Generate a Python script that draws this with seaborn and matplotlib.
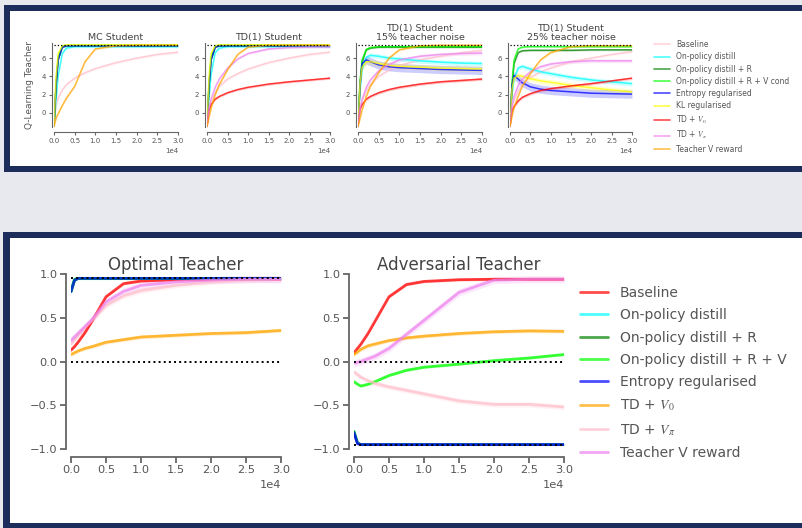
import matplotlib
matplotlib.use("Agg")
import matplotlib.pyplot as plt
import numpy as np
import pandas as pd
import seaborn as sns
from matplotlib.patches import Rectangle
from matplotlib.lines import Line2D
from matplotlib.ticker import MultipleLocator

# training steps (x axis), shared by every curve
steps = [0, 500, 1000, 2000, 3000, 5000, 7500, 10000, 15000, 20000, 25000, 30000]

# ---- top figure: Q-learning teacher ----
top_methods = ["Baseline", "On-policy distill", "On-policy distill + R",
               "On-policy distill + R + V cond", "Entropy regularised", "KL regularised",
               r"TD + $V_0$", r"TD + $V_\pi$", "Teacher V reward"]
top_colors = ["pink", "cyan", "green", "lime", "blue", "yellow", "red", "violet", "orange"]
top_band_clean = [0.15, 0.12, 0.08, 0.08, 0.08, 0.08, 0.12, 0.12, 0.1]
top_band_noisy = [0.15, 0.25, 0.1, 0.1, 0.45, 0.3, 0.15, 0.2, 0.12]
top_titles = ["MC Student", "TD(1) Student", "TD(1) Student\n15% teacher noise",
              "TD(1) Student\n25% teacher noise"]
q_optimal = 7.45

mc_baseline = [-1.5, 0.8, 1.6, 2.5, 3.1, 3.8, 4.4, 4.85, 5.5, 6.0, 6.4, 6.65]
mc_distill = [-1.5, 1.5, 4.0, 6.5, 7.1, 7.25, 7.25, 7.25, 7.25, 7.25, 7.25, 7.25]
mc_distill_r = [-1.5, 3.0, 5.8, 7.2, 7.35, 7.35, 7.35, 7.35, 7.35, 7.35, 7.35, 7.35]
mc_distill_rv = [-1.5, 3.3, 6.1, 7.3, 7.4, 7.4, 7.4, 7.4, 7.4, 7.4, 7.4, 7.4]
mc_entropy = [-1.5, 3.0, 5.8, 7.2, 7.35, 7.35, 7.35, 7.35, 7.35, 7.35, 7.35, 7.35]
mc_kl = [-1.5, 4.0, 6.5, 7.35, 7.45, 7.45, 7.45, 7.45, 7.45, 7.45, 7.45, 7.45]
mc_teacher_v = [-1.5, -0.6, -0.1, 0.8, 1.6, 2.9, 5.6, 7.0, 7.35, 7.4, 7.4, 7.4]

td_baseline = [-1.5, 0.5, 1.2, 2.2, 2.9, 3.7, 4.3, 4.8, 5.5, 6.0, 6.4, 6.65]
td_distill = [-1.5, 1.6, 4.2, 6.6, 7.1, 7.25, 7.25, 7.25, 7.25, 7.25, 7.25, 7.25]
td_distill_r = [-1.5, 3.0, 5.8, 7.2, 7.35, 7.35, 7.35, 7.35, 7.35, 7.35, 7.35, 7.35]
td_distill_rv = [-1.5, 3.3, 6.1, 7.3, 7.4, 7.4, 7.4, 7.4, 7.4, 7.4, 7.4, 7.4]
td_entropy = [-1.5, 3.0, 5.8, 7.2, 7.35, 7.35, 7.35, 7.35, 7.35, 7.35, 7.35, 7.35]
td_kl = [-1.5, 4.0, 6.5, 7.35, 7.45, 7.45, 7.45, 7.45, 7.45, 7.45, 7.45, 7.45]
td_v0 = [-1.5, 0.3, 0.9, 1.5, 1.8, 2.2, 2.55, 2.8, 3.15, 3.4, 3.6, 3.8]
td_vpi = [-1.5, 0.5, 1.5, 2.8, 3.7, 4.9, 5.9, 6.5, 7.0, 7.15, 7.2, 7.2]
td_teacher_v = [-1.5, -0.5, 0.5, 2.0, 3.1, 4.7, 6.4, 7.2, 7.4, 7.4, 7.4, 7.4]

n15_baseline = [-1.5, 0.5, 1.3, 2.4, 3.1, 4.0, 4.7, 5.2, 5.8, 6.2, 6.6, 6.85]
n15_distill = [-1.5, 2.5, 4.8, 6.1, 6.3, 6.2, 6.0, 5.9, 5.7, 5.55, 5.45, 5.4]
n15_distill_r = [-1.5, 3.2, 5.6, 6.9, 7.1, 7.2, 7.2, 7.2, 7.2, 7.2, 7.2, 7.2]
n15_distill_rv = [-1.5, 3.5, 5.8, 6.95, 7.15, 7.25, 7.25, 7.25, 7.25, 7.25, 7.25, 7.25]
n15_entropy = [-1.5, 3.0, 5.4, 5.8, 5.6, 5.25, 5.05, 4.95, 4.85, 4.75, 4.7, 4.65]
n15_kl = [-1.5, 3.2, 5.0, 5.6, 5.6, 5.4, 5.2, 5.1, 5.0, 4.9, 4.85, 4.8]
n15_v0 = [-1.5, 0.4, 0.9, 1.5, 1.8, 2.2, 2.55, 2.8, 3.15, 3.4, 3.55, 3.7]
n15_vpi = [-1.5, 0.5, 1.5, 2.8, 3.6, 4.6, 5.3, 5.8, 6.2, 6.4, 6.5, 6.55]
n15_teacher_v = [-1.5, -0.6, 0.3, 1.8, 2.9, 4.4, 6.0, 6.9, 7.35, 7.4, 7.4, 7.4]

n25_baseline = [-1.5, 0.6, 1.4, 2.4, 3.1, 3.9, 4.5, 4.9, 5.6, 6.0, 6.4, 6.7]
n25_distill = [-1.5, 2.0, 3.8, 4.9, 5.1, 4.8, 4.5, 4.3, 3.9, 3.6, 3.4, 3.2]
n25_distill_r = [-1.5, 3.0, 5.4, 6.6, 6.8, 6.85, 6.85, 6.85, 6.85, 6.9, 6.9, 6.9]
n25_distill_rv = [-1.5, 3.3, 5.8, 7.0, 7.2, 7.25, 7.25, 7.25, 7.25, 7.25, 7.25, 7.25]
n25_entropy = [-1.5, 3.0, 4.1, 3.7, 3.3, 2.85, 2.6, 2.45, 2.3, 2.15, 2.1, 2.05]
n25_kl = [-1.5, 2.6, 3.8, 4.1, 4.0, 3.75, 3.5, 3.35, 3.0, 2.75, 2.5, 2.3]
n25_v0 = [-1.5, 0.2, 0.7, 1.3, 1.7, 2.1, 2.45, 2.65, 2.95, 3.2, 3.5, 3.8]
n25_vpi = [-1.5, 0.8, 1.8, 3.0, 3.7, 4.5, 5.05, 5.35, 5.6, 5.7, 5.7, 5.7]
n25_teacher_v = [-1.5, -0.4, 0.6, 1.8, 2.9, 4.3, 5.8, 6.6, 7.25, 7.35, 7.35, 7.35]

# ---- bottom figure: optimal / adversarial teacher ----
bot_methods = ["Baseline", "On-policy distill", "On-policy distill + R",
               "On-policy distill + R + V", "Entropy regularised", r"TD + $V_0$",
               r"TD + $V_\pi$", "Teacher V reward"]
bot_colors = ["red", "cyan", "green", "lime", "blue", "orange", "pink", "violet"]
bot_band = [0.015, 0.01, 0.01, 0.015, 0.01, 0.02, 0.03, 0.04]
bot_titles = ["Optimal Teacher", "Adversarial Teacher"]

opt_baseline = [0.13, 0.17, 0.22, 0.33, 0.46, 0.74, 0.89, 0.92, 0.935, 0.94, 0.94, 0.94]
opt_distill = [0.8, 0.93, 0.95, 0.95, 0.95, 0.95, 0.95, 0.95, 0.95, 0.95, 0.95, 0.95]
opt_distill_r = [0.8, 0.93, 0.95, 0.95, 0.95, 0.95, 0.95, 0.95, 0.95, 0.95, 0.95, 0.95]
opt_distill_rv = [0.8, 0.94, 0.95, 0.95, 0.95, 0.95, 0.95, 0.95, 0.95, 0.95, 0.95, 0.95]
opt_entropy = [0.8, 0.93, 0.95, 0.95, 0.95, 0.95, 0.95, 0.95, 0.95, 0.95, 0.95, 0.95]
opt_v0 = [0.08, 0.10, 0.12, 0.15, 0.17, 0.22, 0.25, 0.28, 0.30, 0.32, 0.33, 0.355]
opt_vpi = [0.2, 0.25, 0.3, 0.39, 0.47, 0.64, 0.75, 0.81, 0.87, 0.91, 0.93, 0.94]
opt_teacher_v = [0.24, 0.28, 0.32, 0.40, 0.48, 0.68, 0.80, 0.87, 0.91, 0.93, 0.94, 0.94]

adv_baseline = [0.1, 0.15, 0.2, 0.32, 0.46, 0.74, 0.88, 0.915, 0.935, 0.94, 0.94, 0.94]
adv_distill = [-0.8, -0.93, -0.95, -0.95, -0.95, -0.95, -0.95, -0.95, -0.95, -0.95, -0.95, -0.95]
adv_distill_r = [-0.8, -0.93, -0.95, -0.95, -0.95, -0.95, -0.95, -0.95, -0.95, -0.95, -0.95, -0.95]
adv_distill_rv = [-0.23, -0.26, -0.28, -0.26, -0.23, -0.16, -0.10, -0.065, -0.03, 0.01, 0.04, 0.08]
adv_entropy = [-0.82, -0.94, -0.95, -0.95, -0.95, -0.95, -0.95, -0.95, -0.95, -0.95, -0.95, -0.95]
adv_v0 = [0.08, 0.11, 0.14, 0.18, 0.20, 0.24, 0.27, 0.29, 0.32, 0.34, 0.35, 0.345]
adv_vpi = [-0.12, -0.15, -0.18, -0.22, -0.25, -0.29, -0.33, -0.37, -0.45, -0.49, -0.49, -0.52]
adv_teacher_v = [-0.02, -0.01, 0.0, 0.03, 0.06, 0.15, 0.31, 0.47, 0.79, 0.93, 0.94, 0.94]

top_panels = [
    dict(zip(top_methods, [mc_baseline, mc_distill, mc_distill_r, mc_distill_rv, mc_entropy,
                           mc_kl, None, None, mc_teacher_v])),
    dict(zip(top_methods, [td_baseline, td_distill, td_distill_r, td_distill_rv, td_entropy,
                           td_kl, td_v0, td_vpi, td_teacher_v])),
    dict(zip(top_methods, [n15_baseline, n15_distill, n15_distill_r, n15_distill_rv, n15_entropy,
                           n15_kl, n15_v0, n15_vpi, n15_teacher_v])),
    dict(zip(top_methods, [n25_baseline, n25_distill, n25_distill_r, n25_distill_rv, n25_entropy,
                           n25_kl, n25_v0, n25_vpi, n25_teacher_v])),
]
bot_panels = [
    dict(zip(bot_methods, [opt_baseline, opt_distill, opt_distill_r, opt_distill_rv, opt_entropy,
                           opt_v0, opt_vpi, opt_teacher_v])),
    dict(zip(bot_methods, [adv_baseline, adv_distill, adv_distill_r, adv_distill_rv, adv_entropy,
                           adv_v0, adv_vpi, adv_teacher_v])),
]

sns.set_style("ticks")
plt.rcParams["font.family"] = ["DejaVu Sans"]
plt.rcParams["mathtext.fontset"] = "stix"
TXT = "#555555"
SPINE = "#666666"

W, H = 802, 528
fig = plt.figure(figsize=(W / 100, H / 100), dpi=100)
fig.patch.set_facecolor("#e8e9ef")


def px_rect(x0, y0, x1, y1, color):
    fig.patches.append(Rectangle((x0 / W, 1 - y1 / H), (x1 - x0) / W, (y1 - y0) / H,
                                 transform=fig.transFigure, color=color, zorder=-10, lw=0))


def px_axes(x0, y0, x1, y1):
    ax = fig.add_axes([x0 / W, 1 - y1 / H, (x1 - x0) / W, (y1 - y0) / H])
    ax.patch.set_alpha(0)
    return ax


# card backgrounds
navy = "#1c2d5b"
px_rect(4, 5, 810, 172, navy)
px_rect(10, 11, 810, 166, "white")
px_rect(3, 232, 810, 540, navy)
px_rect(10, 238, 810, 523, "white")


def draw_curves(ax, curves, methods, colors, bands, lw):
    rows = []
    for m in methods:
        if curves[m] is None:
            continue
        for s, v in zip(steps, curves[m]):
            rows.append({"step": s, "value": v, "method": m})
    df = pd.DataFrame(rows)
    for m, c, b in zip(methods, colors, bands):
        if curves[m] is None:
            continue
        y = np.array(curves[m])
        ax.fill_between(steps, y - b, y + b, color=c, alpha=0.2, lw=0)
    present = [m for m in methods if curves[m] is not None]
    sns.lineplot(data=df, x="step", y="value", hue="method", hue_order=present,
                 palette=dict(zip(methods, colors)), legend=False, ax=ax, lw=lw, alpha=0.75)
    ax.set_xlabel("")
    ax.set_ylabel("")


def style_axes(ax, fs, tick_len, spine_w, off):
    ax.set_xlim(0, 30000)
    ax.xaxis.set_major_locator(MultipleLocator(5000))
    ax.ticklabel_format(axis="x", style="sci", scilimits=(0, 0))
    ax.xaxis.get_offset_text().set_fontsize(fs)
    ax.xaxis.get_offset_text().set_color(TXT)
    ax.tick_params(labelsize=fs, length=tick_len, width=spine_w, colors=SPINE, labelcolor=TXT, pad=2)
    sns.despine(ax=ax, offset=off)
    for sp in ["left", "bottom"]:
        ax.spines[sp].set_linewidth(spine_w)
        ax.spines[sp].set_color(SPINE)


# top row
top_x = [(54, 178), (207, 330), (358, 482), (510, 632)]
for i, (x0, x1) in enumerate(top_x):
    ax = px_axes(x0, 43, x1, 127)
    bands = top_band_clean if i < 2 else top_band_noisy
    draw_curves(ax, top_panels[i], top_methods, top_colors, bands, 1.1)
    ax.plot([0, 30000], [q_optimal, q_optimal], ls=":", color="black", lw=0.9, zorder=5)
    ax.set_ylim(-1.55, 7.65)
    ax.set_yticks([0, 2, 4, 6])
    style_axes(ax, 5, 2.5, 0.8, {"left": 1.5, "bottom": 3.6})
    ax.set_title(top_titles[i], fontsize=6.8, color="#444444", pad=2.5, linespacing=1.0)

fig.text(30 / W, 1 - 85 / H, "Q-Learning Teacher", rotation=90, ha="center", va="center",
         fontsize=6.5, color=TXT)

top_handles = [Line2D([], [], color=c, lw=1.2, alpha=0.7) for c in top_colors]
fig.legend(top_handles, top_methods, loc="upper left", bbox_to_anchor=(654 / W, 1 - 40 / H),
           frameon=False, fontsize=5.5, handlelength=2.1, handletextpad=0.8,
           labelspacing=0.43, borderpad=0, borderaxespad=0, labelcolor=TXT)

# bottom row
bot_x = [(71, 281), (354, 564)]
bot_refs = [[0.95, 0.0], [0.0, -0.95]]
for i, (x0, x1) in enumerate(bot_x):
    ax = px_axes(x0, 274, x1, 449)
    draw_curves(ax, bot_panels[i], bot_methods, bot_colors, bot_band, 2.0)
    for r in bot_refs[i]:
        ax.plot([0, 30000], [r, r], ls=":", color="black", lw=1.4, zorder=5)
    ax.set_ylim(-1.0, 1.0)
    ax.set_yticks([-1.0, -0.5, 0.0, 0.5, 1.0])
    style_axes(ax, 8.2, 4, 1.3, {"left": 3.6, "bottom": 5.8})
    ax.set_title(bot_titles[i], fontsize=12, color="#444444", pad=3)

bot_handles = [Line2D([], [], color=c, lw=2, alpha=0.7) for c in bot_colors]
fig.legend(bot_handles, bot_methods, loc="upper left", bbox_to_anchor=(580 / W, 1 - 286 / H),
           frameon=False, fontsize=10, handlelength=2.0, handletextpad=0.85,
           labelspacing=0.6, borderpad=0, borderaxespad=0, labelcolor=TXT)

fig.savefig("out.png", dpi=100, facecolor=fig.get_facecolor())
